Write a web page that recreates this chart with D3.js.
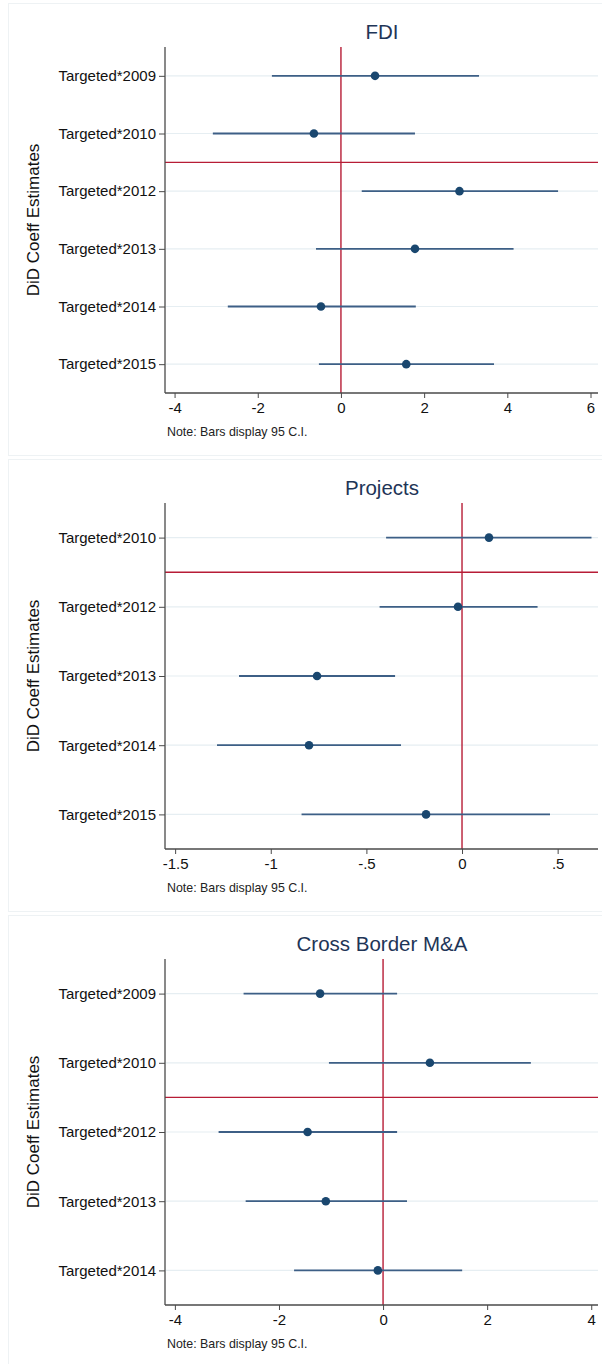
<!DOCTYPE html>
<html>
<head>
<meta charset="utf-8">
<script src="https://cdn.jsdelivr.net/npm/d3@7"></script>
<style>
  html, body { margin: 0; padding: 0; background: #ffffff; }
  svg { display: block; font-family: "Liberation Sans", Arial, Helvetica, sans-serif; }
</style>
</head>
<body>
<svg id="chart" width="602" height="1364"></svg>
<script>
// DiD coefficient estimates with 95% confidence intervals, one panel per outcome

// FDI
const fdiTerms = ["Targeted*2009", "Targeted*2010", "Targeted*2012", "Targeted*2013", "Targeted*2014", "Targeted*2015"];
const fdiEst   = [0.82, -0.65, 2.85, 1.78, -0.48, 1.57];
const fdiLow   = [-1.66, -3.08, 0.50, -0.60, -2.72, -0.53];
const fdiHigh  = [3.32, 1.78, 5.22, 4.15, 1.80, 3.68];
const fdiTicks = [-4, -2, 0, 2, 4, 6];
const fdiDomain = [-4.23, 6.18];

// Projects
const projTerms = ["Targeted*2010", "Targeted*2012", "Targeted*2013", "Targeted*2014", "Targeted*2015"];
const projEst   = [0.141, -0.021, -0.758, -0.80, -0.188];
const projLow   = [-0.397, -0.431, -1.166, -1.281, -0.839];
const projHigh  = [0.677, 0.395, -0.350, -0.319, 0.46];
const projTicks = [-1.5, -1, -0.5, 0, 0.5];
const projDomain = [-1.553, 0.711];

// Cross Border M&A
const maTerms = ["Targeted*2009", "Targeted*2010", "Targeted*2012", "Targeted*2013", "Targeted*2014"];
const maEst   = [-1.21, 0.90, -1.45, -1.10, -0.10];
const maLow   = [-2.68, -1.04, -3.16, -2.64, -1.71];
const maHigh  = [0.27, 2.84, 0.27, 0.46, 1.52];
const maTicks = [-4, -2, 0, 2, 4];
const maDomain = [-4.19, 4.13];

const panelTitles = ["FDI", "Projects", "Cross Border M&A"];
const noteText = "Note: Bars display 95 C.I.";
const yTitle = "DiD Coeff Estimates";
// the policy break sits between these two rows
const breakBefore = "Targeted*2010";
const breakAfter  = "Targeted*2012";

const panels = [
  { title: panelTitles[0], terms: fdiTerms, est: fdiEst, lo: fdiLow, hi: fdiHigh, ticks: fdiTicks, domain: fdiDomain },
  { title: panelTitles[1], terms: projTerms, est: projEst, lo: projLow, hi: projHigh, ticks: projTicks, domain: projDomain },
  { title: panelTitles[2], terms: maTerms, est: maEst, lo: maLow, hi: maHigh, ticks: maTicks, domain: maDomain }
];

const navy = "#1a476f";
const ciColor = "#3d5f86";
const red = "#b71c36";
const gridColor = "#e6eef2";
const axisColor = "#4a4a4a";

// Stata-style numbers: drop the leading zero (".5", "-.5")
const fmt = v => {
  let s = String(+v.toFixed(2));
  return s.replace(/^(-?)0\./, "$1.");
};

const svg = d3.select("#chart");
const panelStep = 456;
const plotLeft = 165, plotRight = 598;

panels.forEach((p, i) => {
  const top = i * panelStep;
  const g = svg.append("g").attr("transform", `translate(0,${top})`);

  // panel frame
  g.append("rect")
    .attr("x", 8.5).attr("y", 3.5)
    .attr("width", 602).attr("height", i === 2 ? 460 : 452)
    .attr("fill", "#ffffff")
    .attr("stroke", "#eef2f4").attr("stroke-width", 1);

  const plotTop = 47, plotBottom = 393;

  const x = d3.scaleLinear().domain(p.domain).range([plotLeft, plotRight]);
  const y = d3.scalePoint().domain(p.terms).range([plotTop, plotBottom]).padding(0.5);

  // horizontal grid at each term
  g.append("g").selectAll("line").data(p.terms).join("line")
    .attr("x1", plotLeft + 1).attr("x2", plotRight)
    .attr("y1", d => y(d)).attr("y2", d => y(d))
    .attr("stroke", gridColor).attr("stroke-width", 1.2);

  // reference lines: zero effect and policy break
  g.append("line")
    .attr("x1", x(0)).attr("x2", x(0))
    .attr("y1", plotTop).attr("y2", plotBottom)
    .attr("stroke", red).attr("stroke-width", 1.4);
  const yBreak = (y(breakBefore) + y(breakAfter)) / 2;
  g.append("line")
    .attr("x1", plotLeft).attr("x2", plotRight)
    .attr("y1", yBreak).attr("y2", yBreak)
    .attr("stroke", red).attr("stroke-width", 1.4);

  // confidence interval bars
  const rows = p.terms.map((t, k) => ({ t, est: p.est[k], lo: p.lo[k], hi: p.hi[k] }));
  g.append("g").selectAll("line").data(rows).join("line")
    .attr("x1", d => x(d.lo)).attr("x2", d => x(d.hi))
    .attr("y1", d => y(d.t)).attr("y2", d => y(d.t))
    .attr("stroke", ciColor).attr("stroke-width", 1.8);

  // point estimates
  g.append("g").selectAll("circle").data(rows).join("circle")
    .attr("cx", d => x(d.est)).attr("cy", d => y(d.t))
    .attr("r", 4.3)
    .attr("fill", navy);

  // y axis
  const yAxis = g.append("g").attr("transform", `translate(${plotLeft},0)`)
    .call(d3.axisLeft(y).tickSize(6).tickPadding(3));
  yAxis.select(".domain").remove();
  yAxis.append("line")
    .attr("x1", 0).attr("x2", 0).attr("y1", plotTop).attr("y2", plotBottom)
    .attr("stroke", axisColor).attr("stroke-width", 1.3);
  yAxis.selectAll(".tick line").attr("stroke", axisColor);
  yAxis.selectAll(".tick text")
    .attr("fill", "#111").style("font-size", "15px");

  // x axis
  const xAxis = g.append("g").attr("transform", `translate(0,${plotBottom})`)
    .call(d3.axisBottom(x).tickValues(p.ticks).tickFormat(fmt).tickSize(5).tickPadding(4));
  xAxis.select(".domain").remove();
  xAxis.append("line")
    .attr("x1", plotLeft).attr("x2", plotRight).attr("y1", 0).attr("y2", 0)
    .attr("stroke", axisColor).attr("stroke-width", 1.3);
  xAxis.selectAll(".tick line").attr("stroke", axisColor);
  xAxis.selectAll(".tick text")
    .attr("fill", "#111").style("font-size", "15px");

  // title
  g.append("text")
    .attr("x", 382).attr("y", 39)
    .attr("text-anchor", "middle")
    .attr("fill", "#1e3557")
    .style("font-size", "20.5px")
    .text(p.title);

  // y axis title
  g.append("text")
    .attr("transform", `translate(39,${(plotTop + plotBottom) / 2}) rotate(-90)`)
    .attr("text-anchor", "middle")
    .attr("fill", "#111")
    .style("font-size", "17px")
    .text(yTitle);

  // note
  g.append("text")
    .attr("x", 167).attr("y", 436)
    .attr("fill", "#222")
    .style("font-size", "12.4px")
    .text(noteText);
});
</script>
</body>
</html>
